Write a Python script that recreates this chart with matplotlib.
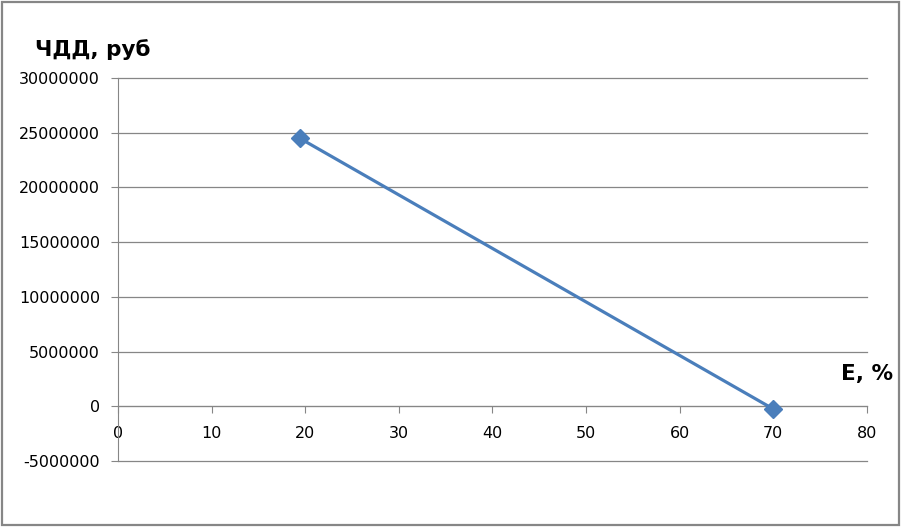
import matplotlib.pyplot as plt
from matplotlib.patches import Rectangle

# discount rate, % and NPV, rub
rate = [19.4, 70.0]
npv = [24500000, -250000]

x_ticks = [0, 10, 20, 30, 40, 50, 60, 70, 80]
y_ticks = [-5000000, 0, 5000000, 10000000, 15000000, 20000000, 25000000, 30000000]

grey = '#868686'
blue = '#4a7ebb'

plt.rcParams['font.family'] = ['DejaVu Sans']

fig = plt.figure(figsize=(9.02, 5.27), dpi=100)
ax = fig.add_axes([0.1308, 0.1252, 0.8304, 0.7268])

ax.plot(rate, npv, color=blue, linewidth=2.3, marker='D', markersize=9.5,
        markerfacecolor=blue, markeredgecolor=blue, zorder=3)

ax.set_xlim(0, 80)
ax.set_ylim(-5000000, 30000000)
ax.set_xticks(x_ticks)
ax.set_yticks(y_ticks)
ax.set_yticklabels([str(v) for v in y_ticks])

ax.grid(axis='y', color=grey, linewidth=0.9)
for gl in ax.get_ygridlines():
    gl.set_clip_on(False)
ax.set_axisbelow(True)

for side in ['top', 'right']:
    ax.spines[side].set_visible(False)
ax.spines['left'].set_color(grey)
ax.spines['bottom'].set_color(grey)
ax.spines['bottom'].set_position(('data', 0))

ax.tick_params(axis='y', direction='out', length=5, color=grey, pad=8,
               labelsize=11.5, labelcolor='black')
ax.tick_params(axis='x', direction='out', length=5, color=grey, pad=9,
               labelsize=11.5, labelcolor='black')

fig.text(35 / 902, 1 - 50 / 527, 'ЧДД, руб', fontsize=15.5, fontweight='bold',
         ha='left', va='center')
fig.text(893 / 902, 1 - 374 / 527, 'E, %', fontsize=15.5, fontweight='bold',
         ha='right', va='center')

fig.patches.append(Rectangle((0.002, 0.004), 0.995, 0.993, transform=fig.transFigure,
                             fill=False, edgecolor=grey, linewidth=1.6))

fig.savefig('out.png', dpi=100)
